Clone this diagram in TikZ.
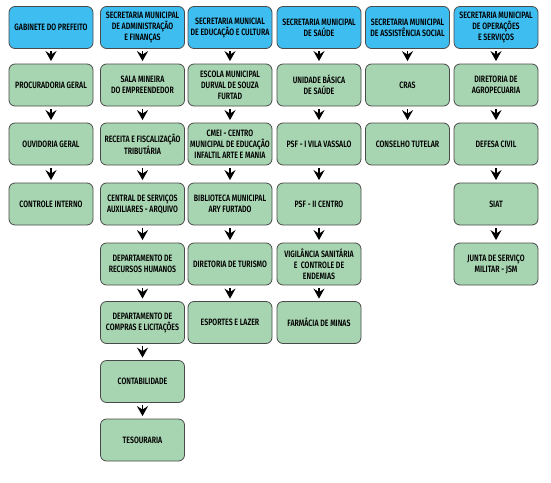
\documentclass[tikz,border=0pt]{standalone}
\usepackage{fontspec}
\newfontfamily\orgfont[FakeStretch=0.76]{Fira Sans SemiBold}
\usetikzlibrary{arrows.meta}

\definecolor{azulsec}{HTML}{3DBDF0}
\definecolor{verdeset}{HTML}{A7D4B1}
\definecolor{bordaorg}{HTML}{4A4A4A}

\tikzset{
    caixa/.style={draw=bordaorg, line width=0.8pt, rounded corners=6pt, minimum width=84pt,
        minimum height=42pt, inner sep=1pt, align=center, text=black,
        font=\orgfont\fontsize{9.2}{11}\selectfont},
    secr/.style={caixa, fill=azulsec},
    setor/.style={caixa, fill=verdeset},
    seta/.style={-{Stealth[length=10pt, width=11pt, inset=3.5pt]}, line width=1.2pt,
        shorten <=2.5pt, shorten >=2.5pt}
}

\begin{document}
\begin{tikzpicture}[x=1pt, y=-1pt]
        \useasboundingbox (0, 0) rectangle (551, 482);

        % Secretarias (topo)
        \node [secr] (gab) at (51, 27.5) {GABINETE DO PREFEITO};
        \node [secr] (adm) at (142.5, 27.5) {SECRETARIA MUNICIPAL\\DE ADMINISTRAÇÃO\\E FINANÇAS};
        \node [secr] (edu) at (230, 27.5) {SECRETARIA MUNICIAL\\DE EDUCAÇÃO E CULTURA};
        \node [secr] (sau) at (319, 27.5) {SECRETARIA MUNICIPAL\\DE SAÚDE};
        \node [secr] (ass) at (407.5, 27.5) {SECRETARIA MUNICIPAL\\DE ASSISTÊNCIA SOCIAL};
        \node [secr] (ope) at (496, 27.5) {SECRETARIA MUNICIPAL\\DE OPERAÇÕES\\E SERVIÇOS};

        % Gabinete
        \node [setor] (proc) at (51, 85) {PROCURADORIA GERAL};
        \node [setor] (ouv) at (51, 144) {OUVIDORIA GERAL};
        \node [setor] (ctrl) at (51, 204) {CONTROLE INTERNO};

        % Administração e finanças
        \node [setor] (sala) at (142.5, 85) {SALA MINEIRA\\DO EMPREENDEDOR};
        \node [setor] (rec) at (142.5, 144) {RECEITA E FISCALIZAÇÃO\\TRIBUTÁRIA};
        \node [setor] (cent) at (142.5, 204) {CENTRAL DE SERVIÇOS\\AUXILIARES - ARQUIVO};
        \node [setor] (rh) at (142.5, 264) {DEPARTAMENTO DE\\RECURSOS HUMANOS};
        \node [setor] (comp) at (142.5, 322.5) {DEPARTAMENTO DE\\COMPRAS E LICITAÇÕES};
        \node [setor] (cont) at (142.5, 381.5) {CONTABILIDADE};
        \node [setor] (tes) at (142.5, 440) {TESOURARIA};

        % Educação e cultura
        \node [setor] (esc) at (230, 85) {ESCOLA MUNICIPAL\\DURVAL DE SOUZA\\FURTAD};
        \node [setor] (cmei) at (230, 144) {CMEI - CENTRO\\MUNICIPAL DE EDUCAÇÃO\\INFALTIL ARTE E MANIA};
        \node [setor] (bib) at (230, 204) {BIBLIOTECA MUNICIPAL\\ARY FURTADO};
        \node [setor] (tur) at (230, 264) {DIRETORIA DE TURISMO};
        \node [setor] (esp) at (230, 322.5) {ESPORTES E LAZER};

        % Saúde
        \node [setor] (ubs) at (319, 85) {UNIDADE BÁSICA\\DE SAÚDE};
        \node [setor] (psfa) at (319, 144) {PSF - I VILA VASSALO};
        \node [setor] (psfb) at (319, 204) {PSF - II CENTRO};
        \node [setor] (vig) at (319, 264) {VIGILÂNCIA SANITÁRIA\\E \ CONTROLE DE\\ENDEMIAS};
        \node [setor] (farm) at (319, 322.5) {FARMÁCIA DE MINAS};

        % Assistência social
        \node [setor] (cras) at (407.5, 85) {CRAS};
        \node [setor] (cons) at (407.5, 144) {CONSELHO TUTELAR};

        % Operações e serviços
        \node [setor] (agro) at (496, 85) {DIRETORIA DE\\AGROPECUARIA};
        \node [setor] (def) at (496, 144) {DEFESA CIVIL};
        \node [setor] (siat) at (496, 204) {SIAT};
        \node [setor] (jsm) at (496, 264) {JUNTA DE SERVIÇO\\MILITAR - JSM};

        % Setas
        \draw [seta] (gab) -- (proc);  \draw [seta] (proc) -- (ouv);  \draw [seta] (ouv) -- (ctrl);
        \draw [seta] (adm) -- (sala);  \draw [seta] (sala) -- (rec);  \draw [seta] (rec) -- (cent);
        \draw [seta] (cent) -- (rh);   \draw [seta] (rh) -- (comp);   \draw [seta] (comp) -- (cont);
        \draw [seta] (cont) -- (tes);
        \draw [seta] (edu) -- (esc);   \draw [seta] (esc) -- (cmei);  \draw [seta] (cmei) -- (bib);
        \draw [seta] (bib) -- (tur);   \draw [seta] (tur) -- (esp);
        \draw [seta] (sau) -- (ubs);   \draw [seta] (ubs) -- (psfa);  \draw [seta] (psfa) -- (psfb);
        \draw [seta] (psfb) -- (vig);  \draw [seta] (vig) -- (farm);
        \draw [seta] (ass) -- (cras);  \draw [seta] (cras) -- (cons);
        \draw [seta] (ope) -- (agro);  \draw [seta] (agro) -- (def);  \draw [seta] (def) -- (siat);
        \draw [seta] (siat) -- (jsm);
    \end{tikzpicture}
\end{document}
